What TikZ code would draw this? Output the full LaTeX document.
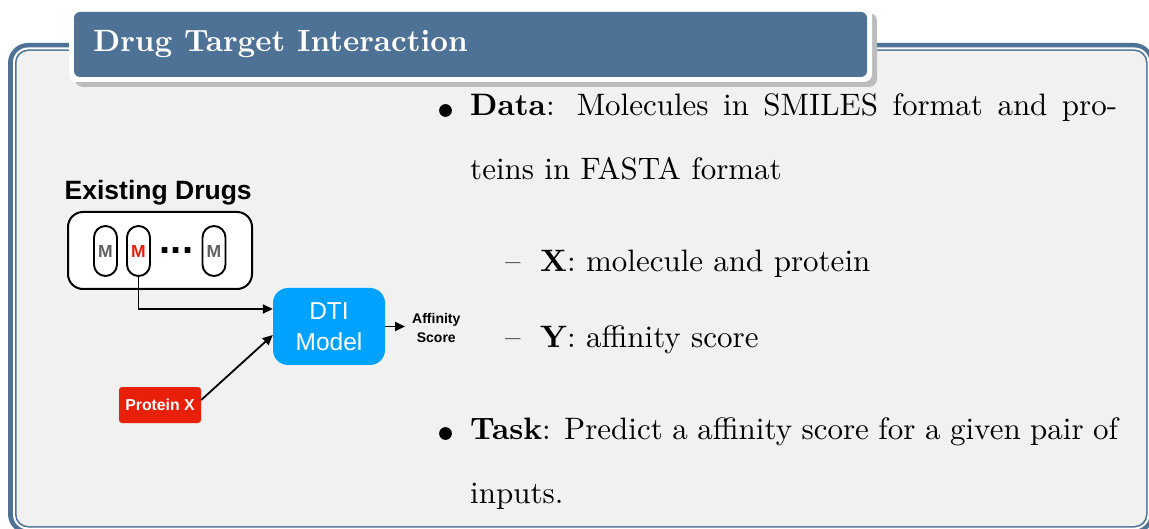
\documentclass[tikz,border=0pt]{standalone}
\usepackage{fontspec}
\setmainfont{lmroman10}[Extension=.otf, UprightFont=*-regular, BoldFont=*-bold,
  ItalicFont=*-italic, BoldItalicFont=*-bolditalic, Ligatures=TeX]
\newfontfamily\hv{Liberation Sans}
\usetikzlibrary{arrows.meta,calc}

\definecolor{framebl}{RGB}{77,114,150}
\definecolor{panelgray}{RGB}{241,241,241}
\definecolor{shadowgray}{RGB}{188,188,188}
\definecolor{dtiblue}{RGB}{0,162,255}
\definecolor{protred}{RGB}{232,32,10}
\definecolor{mgray}{RGB}{96,96,96}

\tikzset{
  body/.style={anchor=base west, inner sep=0pt, font=\fontsize{31}{37}\selectfont},
  pill/.style={draw=black, line width=1.9pt, fill=white, rounded corners=11.5pt,
    minimum width=23pt, minimum height=50pt, inner sep=0pt,
    font=\hv\bfseries\fontsize{17.5}{19}\selectfont},
  arr/.style={line width=1.8pt, -{Triangle[length=10pt,width=9pt]}},
}

\begin{document}
\begin{tikzpicture}[x=1pt,y=-1pt]
\useasboundingbox (0,0) rectangle (1149,529);
\fill[white] (0,0) rectangle (1149,529);

% panel frame: thick outer line, white gap, thin inner line
\begin{scope}
\clip (0,0) rectangle (1149,529);
\fill[framebl, rounded corners=20pt] (8,43) rectangle (1154,534);
\fill[white, rounded corners=15pt] (13,47.5) rectangle (1149.5,529.5);
\fill[framebl, rounded corners=13pt] (15,49.5) rectangle (1147.5,527.5);
\fill[panelgray, rounded corners=12pt] (16.5,51) rectangle (1146,526);
\end{scope}

% title tab with shadow and white rim
\fill[shadowgray, rounded corners=8pt] (75,13) rectangle (877,87);
\fill[white, rounded corners=8pt] (69,7) rectangle (872,82);
\fill[framebl, rounded corners=6pt] (74,12) rectangle (867,77);
\node[body, text=white, font=\bfseries\fontsize{30.8}{37}\selectfont] (title) at (93,52) {Drug Target Interaction};

% ---- left diagram ----
\node[anchor=base west, inner sep=0pt, font=\hv\bfseries\fontsize{26.5}{30}\selectfont] (exist) at (64.5,200) {Existing Drugs};
\node[draw=black, line width=2pt, fill=white, rounded corners=15pt, minimum width=184pt, minimum height=77pt, inner sep=0pt] (drugs) at (160,250.5) {};
\node[pill, text=mgray] (m1) at (105.5,251) {M};
\node[pill, text=protred] (m2) at (138.5,251) {M};
\node[pill, text=mgray] (m3) at (214,251) {M};
\node[anchor=base, inner sep=0pt, font=\hv\bfseries\fontsize{40}{44}\selectfont] (dots) at (176.5,254) {...};

\node[fill=dtiblue, rounded corners=15pt, minimum width=112pt, minimum height=77pt, inner sep=0pt,
  text=white, align=center, font=\hv\fontsize{24.5}{30.5}\selectfont] (dti) at (329,326.5) {DTI\\Model};

\node[fill=protred, rounded corners=3pt, minimum width=82pt, minimum height=36pt, inner sep=0pt,
  text=white, font=\hv\bfseries\fontsize{15.8}{18}\selectfont] (protein) at (160,405) {Protein X};

\node[anchor=west, inner xsep=0pt, inner ysep=0pt, align=center,
  font=\hv\bfseries\fontsize{14}{19}\selectfont] (score) at (412,327.5) {Affinity\\Score};

\draw[arr] (m2.south) |- ([yshift=17.5pt]dti.west);
\draw[arr] ([yshift=5pt]protein.east) -- ([yshift=-8.5pt]dti.west);
\draw[arr, shorten >=7pt] (dti.east) -- (dti.east -| score.west);

% ---- bullet list ----
\fill (445.5,110.5) circle (6.4pt);
\node[body] (d1) at (470,116) {\makebox[647pt][s]{\textbf{Data}:  Molecules in SMILES format and pro-}};
\node[body] (d2) at (470,180) {teins in FASTA format};
\node[body] (xdash) at (505,272) {--};
\node[body] (xline) at (540,272) {\textbf{X}: molecule and protein};
\node[body] (ydash) at (505,348) {--};
\node[body] (yline) at (540,348) {\textbf{Y}: affinity score};
\fill (445.5,433.5) circle (6.4pt);
\node[body] (t1) at (470,439) {\makebox[648pt][s]{\textbf{Task}: Predict a affinity score for a given pair of}};
\node[body] (t2) at (470,503) {inputs.};
\end{tikzpicture}
\end{document}
